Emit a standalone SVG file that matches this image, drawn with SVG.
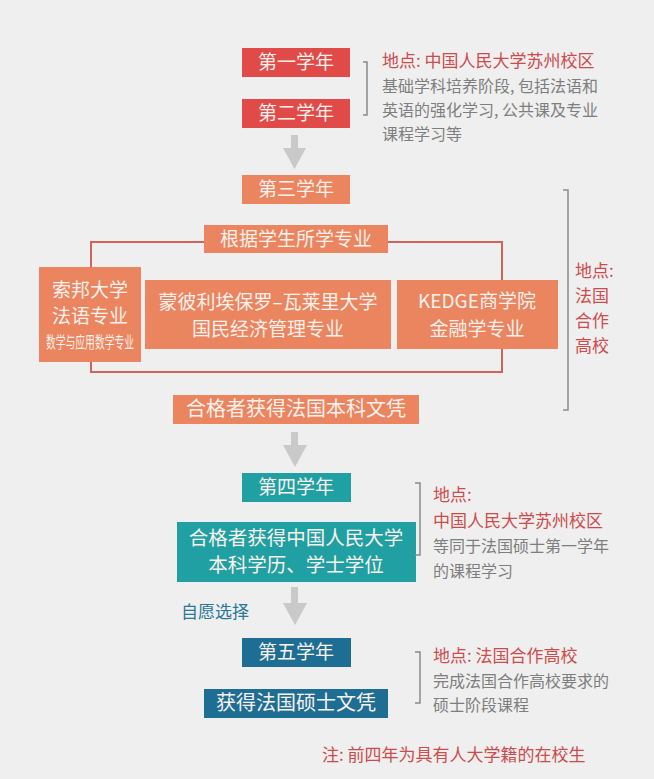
<svg xmlns="http://www.w3.org/2000/svg" width="654" height="779" viewBox="0 0 654 779">
<defs>
<style>
text{font-family:"Noto Sans CJK SC","Noto Sans",sans-serif;}
.red{fill:#e04a48;}
.org{fill:#ea8560;}
.teal{fill:#20a0a2;}
.blue{fill:#1e6e94;}
.bt{fill:#fbf1ec;font-size:19px;text-anchor:middle;}
.loc{fill:#cc4c4c;font-size:17px;}
.desc{fill:#7e7e7e;font-size:16px;}
.brk{fill:none;stroke:#8a8a8a;stroke-width:1.5;}
.arr{fill:#c9c9c9;}
.conn{fill:none;stroke:#d2625a;stroke-width:2;}
</style>
</defs>
<rect width="654" height="779" fill="#efefef"/>

<g id="connectors">
<path class="conn" d="M204 242 H91 V372 H502 V242 H388"/>
<path class="arr" d="M291 135 H298 V148 H306 L294.5 169 L283 148 H291 Z"/>
<path class="arr" d="M291 432 H298 V445 H307 L295 467 L283 445 H291 Z"/>
<path class="arr" d="M291 587 H298 V603 H307 L295 625 L283 603 H291 Z"/>
</g>

<g id="year1"><rect class="red" x="242" y="48" width="108" height="29"/><text class="bt" x="296" y="69">第一学年</text></g>
<g id="year2"><rect class="red" x="242" y="99" width="108" height="29"/><text class="bt" x="296" y="120">第二学年</text></g>
<g id="note1">
<path class="brk" d="M363 62 H367 V115 H363"/>
<text class="loc" x="382" y="67">地点: 中国人民大学苏州校区</text>
<text class="desc" x="382" y="92">基础学科培养阶段, 包括法语和</text>
<text class="desc" x="382" y="116">英语的强化学习, 公共课及专业</text>
<text class="desc" x="382" y="140">课程学习等</text>
</g>

<g id="year3"><rect class="org" x="242" y="175" width="108" height="29"/><text class="bt" x="296" y="196">第三学年</text></g>
<g id="major"><rect class="org" x="204" y="225" width="184" height="28"/><text class="bt" x="296" y="246">根据学生所学专业</text></g>
<g id="sorbonne"><rect class="org" x="39" y="267" width="102" height="95"/>
<text class="bt" x="90" y="297">索邦大学</text>
<text class="bt" x="90" y="323">法语专业</text>
<text class="bt" x="90" y="348" style="font-size:16px" textLength="88" lengthAdjust="spacingAndGlyphs">数学与应用数学专业</text>
</g>
<g id="montpellier"><rect class="org" x="145" y="280" width="246" height="69"/>
<text class="bt" x="268" y="309">蒙彼利埃保罗–瓦莱里大学</text>
<text class="bt" x="268" y="336">国民经济管理专业</text>
</g>
<g id="kedge"><rect class="org" x="397" y="280" width="161" height="69"/>
<text class="bt" x="477" y="308">KEDGE商学院</text>
<text class="bt" x="477" y="336">金融学专业</text>
</g>
<g id="note2">
<path class="brk" d="M563 190 H568 V410 H563"/>
<text class="loc" x="575" y="277">地点:</text>
<text class="loc" x="575" y="302">法国</text>
<text class="loc" x="575" y="327">合作</text>
<text class="loc" x="575" y="352">高校</text>
</g>
<g id="fr-bachelor"><rect class="org" x="173" y="395" width="246" height="29"/><text class="bt" x="296" y="416" style="font-size:20px">合格者获得法国本科文凭</text></g>

<g id="year4"><rect class="teal" x="242" y="473" width="109" height="29"/><text class="bt" x="296" y="494">第四学年</text></g>
<g id="ruc-degree"><rect class="teal" x="177" y="522" width="239" height="60"/>
<text class="bt" x="296" y="545" style="font-size:19.5px">合格者获得中国人民大学</text>
<text class="bt" x="296" y="572" style="font-size:19.5px">本科学历、学士学位</text>
</g>
<g id="note3">
<path class="brk" d="M415 483 H420 V555 H415"/>
<text class="loc" x="433" y="501">地点:</text>
<text class="loc" x="433" y="527">中国人民大学苏州校区</text>
<text class="desc" x="433" y="552">等同于法国硕士第一学年</text>
<text class="desc" x="433" y="577">的课程学习</text>
</g>

<g id="optional"><text x="181" y="618" style="font-size:17px;fill:#2a7796">自愿选择</text></g>
<g id="year5"><rect class="blue" x="242" y="638" width="109" height="29"/><text class="bt" x="296" y="659">第五学年</text></g>
<g id="fr-master"><rect class="blue" x="204" y="689" width="184" height="29"/><text class="bt" x="296" y="710" style="font-size:20px">获得法国硕士文凭</text></g>
<g id="note4">
<path class="brk" d="M415 652 H420 V703 H415"/>
<text class="loc" x="433" y="662">地点: 法国合作高校</text>
<text class="desc" x="433" y="687">完成法国合作高校要求的</text>
<text class="desc" x="433" y="711">硕士阶段课程</text>
</g>

<g id="footnote"><text class="loc" x="322" y="761">注: 前四年为具有人大学籍的在校生</text></g>
</svg>
